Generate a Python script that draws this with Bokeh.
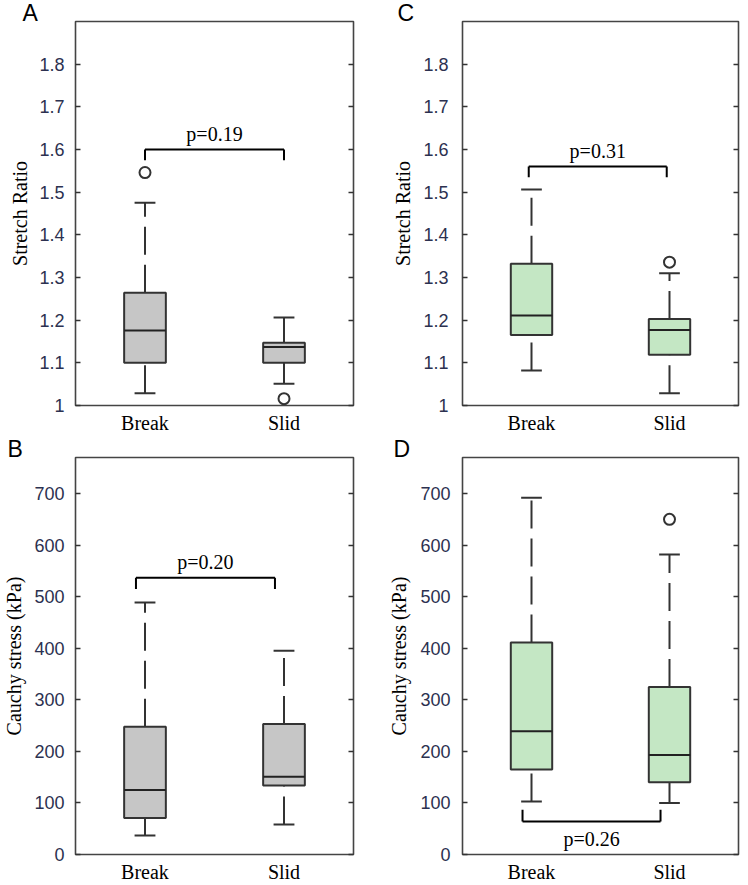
from bokeh.plotting import figure
from bokeh.layouts import row, column
from bokeh.models import (ColumnDataSource, FactorRange, Range1d, FixedTicker,
                          LinearAxis, CustomJSTickFormatter, Title)
from bokeh.transform import dodge
from bokeh.core.properties import value
from bokeh.embed import file_html
from bokeh.resources import INLINE

# ---------------- data ----------------
categories = ["Break", "Slid"]

ratio_ticks = [1, 1.1, 1.2, 1.3, 1.4, 1.5, 1.6, 1.7, 1.8]
stress_ticks = [0, 100, 200, 300, 400, 500, 600, 700]

# Panel A: stretch ratio (grey)
a_lower = [1.029, 1.051]
a_q1 = [1.100, 1.100]
a_median = [1.176, 1.137]
a_q3 = [1.264, 1.147]
a_upper = [1.475, 1.206]
a_out_cat = ["Break", "Slid"]
a_out_val = [1.546, 1.016]

# Panel B: Cauchy stress (grey)
b_lower = [37, 58]
b_q1 = [71, 134]
b_median = [125, 151]
b_q3 = [248, 253]
b_upper = [489, 395]
b_out_cat = []
b_out_val = []

# Panel C: stretch ratio (green)
c_lower = [1.082, 1.029]
c_q1 = [1.165, 1.119]
c_median = [1.211, 1.177]
c_q3 = [1.332, 1.203]
c_upper = [1.506, 1.310]
c_out_cat = ["Slid"]
c_out_val = [1.336]

# Panel D: Cauchy stress (green)
d_lower = [103, 100]
d_q1 = [165, 140]
d_median = [239, 193]
d_q3 = [411, 325]
d_upper = [692, 582]
d_out_cat = ["Slid"]
d_out_val = [650]

# p-value annotations: text, bracket level, bracket tip level, text centre, x offset
p_texts = ["p=0.19", "p=0.20", "p=0.31", "p=0.26"]
p_bracket_y = [1.600, 537, 1.560, 64]
p_bracket_tip = [1.575, 515, 1.535, 87]
p_text_y = [1.636, 567, 1.597, 31]
p_offset = [0.0, -0.065, -0.02, -0.065]

panel_letters = ["A", "B", "C", "D"]

GREY = "#c6c6c6"
GREEN = "#c4e7c4"
DARK = "#333333"


def make_panel(idx, lower, q1, med, q3, upper, out_cat, out_val, fill,
               yr, ticks, ylabel, width, height, mb, standoff, lab_standoff,
               letter_offset, tick_fmt):
    p = figure(x_range=FactorRange(factors=categories), y_range=yr,
               width=width, height=height, output_backend="svg",
               toolbar_location=None, tools="",
               min_border_left=mb[0], min_border_right=mb[1],
               min_border_top=mb[2], min_border_bottom=mb[3],
               background_fill_color="white", border_fill_color="white")
    t = Title(text=panel_letters[idx], align="left", offset=letter_offset,
              text_font="Liberation Sans", text_font_size="23px",
              text_font_style="normal", text_color="black")
    try:
        t.standoff = -8
    except Exception:
        t.standoff = 0
    p.title = t
    p.xgrid.visible = False
    p.ygrid.visible = False
    p.outline_line_color = "#444444"
    p.outline_line_width = 1.6

    src = ColumnDataSource(dict(cat=categories, lw=lower, q1=q1, med=med,
                                q3=q3, uw=upper))
    # whiskers (dashed), drawn from low value to high value
    p.segment(x0="cat", x1="cat", y0="lw", y1="q1", source=src,
              line_color=DARK, line_width=2, line_dash="28 10")
    p.segment(x0="cat", x1="cat", y0="q3", y1="uw", source=src,
              line_color=DARK, line_width=2, line_dash="28 10")
    # caps
    for fld in ("lw", "uw"):
        p.segment(x0=dodge("cat", -0.075, range=p.x_range),
                  x1=dodge("cat", 0.075, range=p.x_range),
                  y0=fld, y1=fld, source=src, line_color=DARK, line_width=2)
    # boxes
    p.vbar(x="cat", width=0.3, bottom="q1", top="q3", source=src,
           fill_color=fill, line_color=DARK, line_width=2)
    # medians
    p.segment(x0=dodge("cat", -0.15, range=p.x_range),
              x1=dodge("cat", 0.15, range=p.x_range),
              y0="med", y1="med", source=src, line_color="#222222", line_width=2)
    # outliers
    if out_cat:
        osrc = ColumnDataSource(dict(cat=out_cat, val=out_val))
        p.scatter(x="cat", y="val", source=osrc, size=11, marker="circle",
                  fill_color="white", line_color=DARK, line_width=2)

    # p-value bracket
    off = p_offset[idx]
    bsrc = ColumnDataSource(dict(c1=[categories[0]], c2=[categories[1]],
                                 by=[p_bracket_y[idx]], bt=[p_bracket_tip[idx]],
                                 ty=[p_text_y[idx]], txt=[p_texts[idx]]))
    p.segment(x0=dodge("c1", off, range=p.x_range), x1=dodge("c2", off, range=p.x_range),
              y0="by", y1="by", source=bsrc, line_color="black", line_width=2)
    p.segment(x0=dodge("c1", off, range=p.x_range), x1=dodge("c1", off, range=p.x_range),
              y0="bt", y1="by", source=bsrc, line_color="black", line_width=2)
    p.segment(x0=dodge("c2", off, range=p.x_range), x1=dodge("c2", off, range=p.x_range),
              y0="bt", y1="by", source=bsrc, line_color="black", line_width=2)
    p.text(x=dodge("c1", 0.5 + off, range=p.x_range), y="ty", text="txt", source=bsrc,
           text_font=value("Liberation Serif"), text_font_size="20px",
           text_align="center", text_baseline="middle", text_color="black")

    # axes
    xa = p.xaxis[0]
    xa.axis_line_color = None
    xa.major_tick_in = 0
    xa.major_tick_out = 0
    xa.major_label_text_font = "Liberation Serif"
    xa.major_label_text_font_size = "20px"
    xa.major_label_text_color = "black"
    xa.major_label_standoff = 6

    ya = p.yaxis[0]
    ya.ticker = FixedTicker(ticks=ticks)
    ya.formatter = CustomJSTickFormatter(code=tick_fmt)
    ya.axis_line_color = None
    ya.major_tick_in = 5
    ya.major_tick_out = 0
    ya.major_tick_line_color = DARK
    ya.major_tick_line_width = 1.5
    ya.minor_tick_line_color = None
    ya.major_label_text_font = "Liberation Sans"
    ya.major_label_text_font_size = "18px"
    ya.major_label_text_color = "#2c3150"
    ya.major_label_standoff = standoff
    ya.axis_label = ylabel
    ya.axis_label_text_font = "Liberation Serif"
    ya.axis_label_text_font_size = "20px"
    ya.axis_label_text_font_style = "normal"
    ya.axis_label_text_color = "black"
    ya.axis_label_standoff = lab_standoff

    ra = LinearAxis(ticker=FixedTicker(ticks=ticks),
                    formatter=CustomJSTickFormatter(code="return '';"),
                    axis_line_color=None, major_tick_in=5, major_tick_out=0,
                    major_tick_line_color=DARK, major_tick_line_width=1.5,
                    minor_tick_line_color=None, major_label_standoff=0)
    p.add_layout(ra, "right")
    return p


ratio_fmt = "return (Math.round(tick*10)/10).toString();"
stress_fmt = "return Math.round(tick).toString();"

pA = make_panel(0, a_lower, a_q1, a_median, a_q3, a_upper, a_out_cat, a_out_val, GREY,
                Range1d(1, 1.9), ratio_ticks, "Stretch Ratio",
                385, 437, (73, 32, 21, 32), 11, 5, -53, ratio_fmt)
pB = make_panel(1, b_lower, b_q1, b_median, b_q3, b_upper, b_out_cat, b_out_val, GREY,
                Range1d(0, 770), stress_ticks, "Cauchy stress (kPa)",
                385, 448, (73, 27, 20, 29), 11, 6, -68, stress_fmt)
pC = make_panel(2, c_lower, c_q1, c_median, c_q3, c_upper, c_out_cat, c_out_val, GREEN,
                Range1d(1, 1.9), ratio_ticks, "Stretch Ratio",
                363, 437, (72, 10, 21, 32), 14, 6, -65, ratio_fmt)
pD = make_panel(3, d_lower, d_q1, d_median, d_q3, d_upper, d_out_cat, d_out_val, GREEN,
                Range1d(0, 770), stress_ticks, "Cauchy stress (kPa)",
                363, 448, (74, 2, 20, 29), 12, 7, -69, stress_fmt)

layout = row(column(pA, pB), column(pC, pD))
open("out.html", "w").write(file_html(layout, INLINE))
